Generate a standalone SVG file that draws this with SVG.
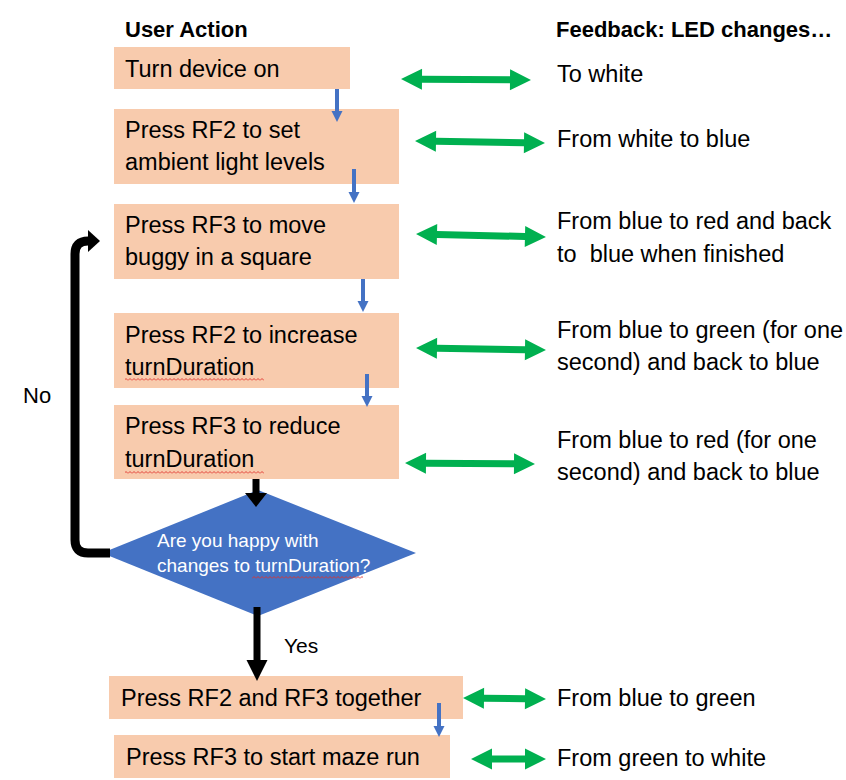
<svg xmlns="http://www.w3.org/2000/svg" width="846" height="780" viewBox="0 0 846 780">
<style>
text{font-family:"Liberation Sans",Arial,sans-serif;fill:#000}
.hdr{font-size:22px;font-weight:bold}
.t{font-size:23.5px}
.box{fill:#F8CBAD}
.g{fill:#00B050}
.blue{stroke:#4472C4;stroke-width:4;fill:none}
.bh{fill:#4472C4}
.dt{font-size:19px;fill:#fff}
</style>
<defs>
<pattern id="squig" patternUnits="userSpaceOnUse" width="4" height="3">
<path d="M0,2.5 L2,0.5 L4,2.5" stroke="#E0302A" stroke-width="0.9" fill="none"/>
</pattern>
</defs>
<rect width="846" height="780" fill="#fff"/>

<g id="headers">
<text class="hdr" x="125" y="37">User Action</text>
<text class="hdr" x="556" y="37">Feedback: LED changes…</text>
</g>

<g id="n1"><rect class="box" x="114" y="47" width="236" height="42"/><text class="t" x="125" y="77">Turn device on</text></g>
<g id="n2"><rect class="box" x="114" y="109" width="285" height="75"/><text class="t" x="125" y="138">Press RF2 to set<tspan x="125" y="170">ambient light levels</tspan></text></g>
<g id="n3"><rect class="box" x="114" y="204" width="285" height="75"/><text class="t" x="125" y="233">Press RF3 to move<tspan x="125" y="265">buggy in a square</tspan></text></g>
<g id="n4"><rect class="box" x="114" y="313" width="285" height="75"/><text class="t" x="125" y="343">Press RF2 to increase<tspan x="125" y="375">turnDuration</tspan></text><rect x="125" y="378" width="139" height="3" fill="url(#squig)"/></g>
<g id="n5"><rect class="box" x="114" y="405" width="285" height="74"/><text class="t" x="125" y="434">Press RF3 to reduce<tspan x="125" y="467">turnDuration</tspan></text><rect x="125" y="471" width="139" height="3" fill="url(#squig)"/></g>
<g id="decision"><polygon points="102,553 258,490 416,553 258,616" fill="#4472C4"/><text class="dt" x="157" y="547">Are you happy with<tspan x="157" y="572">changes to turnDuration?</tspan></text><rect x="252" y="576" width="111" height="3" fill="url(#squig)"/></g>
<g id="n6"><rect class="box" x="109" y="676" width="354" height="43"/><text class="t" x="121" y="706">Press RF2 and RF3 together</text></g>
<g id="n7"><rect class="box" x="114" y="735" width="336" height="43"/><text class="t" x="126" y="765">Press RF3 to start maze run</text></g>

<g id="feedback">
<text class="t" x="557" y="82">To white</text>
<text class="t" x="557" y="147">From white to blue</text>
<text class="t" x="557" y="229" xml:space="preserve" style="white-space:pre">From blue to red and back<tspan x="557" y="262">to  blue when finished</tspan></text>
<text class="t" x="557" y="338">From blue to green (for one<tspan x="557" y="370">second) and back to blue</tspan></text>
<text class="t" x="557" y="448">From blue to red (for one<tspan x="557" y="480">second) and back to blue</tspan></text>
<text class="t" x="557" y="706">From blue to green</text>
<text class="t" x="557" y="766">From green to white</text>
</g>

<g id="connectors">
<path class="blue" d="M337,89 V113"/><polygon class="bh" points="331.5,111 342.5,111 337,122"/>
<path class="blue" d="M354,169 V194"/><polygon class="bh" points="348.5,192 359.5,192 354,203"/>
<path class="blue" d="M363,279 V303"/><polygon class="bh" points="357.5,301 368.5,301 363,312"/>
<path class="blue" d="M367,374 V398"/><polygon class="bh" points="361.5,396 372.5,396 367,407"/>
<path class="blue" d="M439,703 V728"/><polygon class="bh" points="433.5,726 444.5,726 439,737"/>

<path d="M256,479 V494" stroke="#000" stroke-width="7" fill="none"/>
<polygon points="245,493 267,493 256,507" fill="#000"/>
<path d="M257,607 V661" stroke="#000" stroke-width="7" fill="none"/>
<polygon points="246.5,660 267.5,660 257,681" fill="#000"/>
<path d="M110,553 H88 Q75,553 75,540 V254 Q75,241 88,241 H90" stroke="#000" stroke-width="9" fill="none"/>
<polygon points="88,230 100,241 88,252" fill="#000"/>
<text x="23" y="403" style="font-size:22px">No</text>
<text x="284" y="653" style="font-size:21px">Yes</text>

<polygon class="g" transform="translate(401,79) rotate(0.44)" points="0,0 21,-10.5 21,-3.5 109,-3.5 109,-10.5 130,0 109,10.5 109,3.5 21,3.5 21,10.5"/>
<polygon class="g" transform="translate(415,141) rotate(0.88)" points="0,0 21,-10.5 21,-3.5 109,-3.5 109,-10.5 130,0 109,10.5 109,3.5 21,3.5 21,10.5"/>
<polygon class="g" transform="translate(416,234) rotate(1.32)" points="0,0 21,-10.5 21,-3.5 109,-3.5 109,-10.5 130,0 109,10.5 109,3.5 21,3.5 21,10.5"/>
<polygon class="g" transform="translate(416,348) rotate(0.88)" points="0,0 21,-10.5 21,-3.5 109,-3.5 109,-10.5 130,0 109,10.5 109,3.5 21,3.5 21,10.5"/>
<polygon class="g" transform="translate(405,463) rotate(0.44)" points="0,0 21,-10.5 21,-3.5 109,-3.5 109,-10.5 130,0 109,10.5 109,3.5 21,3.5 21,10.5"/>
<polygon class="g" transform="translate(463,698) rotate(0.69)" points="0,0 21,-10.5 21,-3.5 62,-3.5 62,-10.5 83,0 62,10.5 62,3.5 21,3.5 21,10.5"/>
<polygon class="g" transform="translate(471,759)" points="0,0 21,-10.5 21,-3.5 54,-3.5 54,-10.5 75,0 54,10.5 54,3.5 21,3.5 21,10.5"/>
</g>
</svg>
